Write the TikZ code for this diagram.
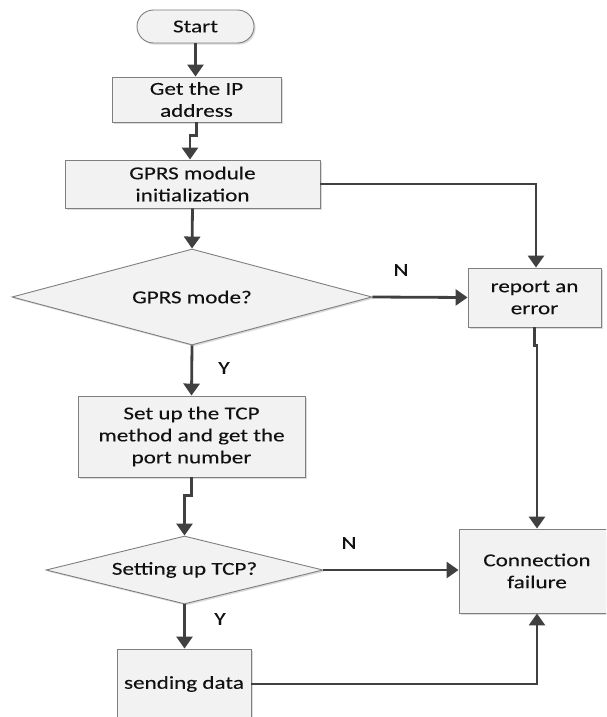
\documentclass[tikz,border=0pt]{standalone}
\usepackage{fontspec}
\setmainfont{Carlito}[FakeStretch=1.27,FakeBold=0.12]
\usetikzlibrary{shapes.geometric,arrows.meta,shadows}
\definecolor{linec}{HTML}{404040}
\definecolor{borderc}{HTML}{7F7F7F}
\definecolor{boxfill}{HTML}{F2F2F2}
\definecolor{txtc}{HTML}{111111}
\tikzset{
  base/.style={draw=borderc, line width=0.9pt, fill=boxfill, text=txtc, inner sep=0pt, align=center,
    font=\fontsize{18.2}{22}\selectfont,
    drop shadow={shadow xshift=1.6pt, shadow yshift=-1.6pt, fill=gray!35, opacity=0.8}},
  procbox/.style={base, rectangle},
  termbox/.style={base, rectangle, rounded corners=16.5pt},
  decbox/.style={base, diamond, aspect=3.5},
  arr/.style={draw=linec, line width=2.8pt, -{Triangle[length=12pt,width=16pt]}},
  lbl/.style={text=txtc, font=\fontsize{18.2}{22}\selectfont, inner sep=0pt}
}
\begin{document}
\begin{tikzpicture}[x=1pt,y=-1pt]
\useasboundingbox (0,0) rectangle (606,717);
\clip (0,0) rectangle (606,717);
\fill[white] (0,0) rectangle (606,717);
\node[termbox, minimum width=117pt, minimum height=33pt] (start) at (195.5,26.5) {Start};
\node[procbox, minimum width=169pt, minimum height=45pt] (ip) at (196.5,99.5) {Get the IP\\address};
\node[procbox, minimum width=255pt, minimum height=48pt] (init) at (192.5,184) {GPRS module\\initialization};
\node[decbox, minimum width=360pt, minimum height=96pt] (mode) at (192,297) {GPRS mode?};
\node[procbox, minimum width=133pt, minimum height=59pt] (report) at (534.5,297.5) {report an\\error};
\node[procbox, minimum width=227pt, minimum height=81pt] (tcp) at (191.5,436.5) {Set up the TCP\\method and get the\\port number};
\node[decbox, minimum width=277pt, minimum height=68pt] (setup) at (184.5,570) {Setting up TCP?};
\node[procbox, minimum width=156pt, minimum height=84pt] (fail) at (537,571) {Connection\\failure};
\node[procbox, minimum width=134pt, minimum height=70pt] (send) at (184,684) {sending data};

\draw[arr] (start.south) -- (ip.north -| start.south);
\draw[arr] (ip.south) -- ++(0,13) -| ([xshift=-2.5pt]init.north);
\draw[arr] (init.east) -| ([xshift=1.5pt]report.north);
\draw[arr] (init.south) -- (mode.north);
\draw[arr] (mode.east) -- (report.west);
\draw[arr] (mode.south) -- (tcp.north);
\draw[arr] (report.south) -- ++(0,18) -| (fail.north);
\draw[arr] (tcp.south) -- ++(0,18) -| (setup.north);
\draw[arr] (setup.east) -- (fail.west |- setup.east);
\draw[arr] (setup.south) -- (send.north -| setup.south);
\draw[arr] (send.east) -| (fail.south);

\node[lbl] (n1) at (401,270) {N};
\node[lbl] (y1) at (224,368) {Y};
\node[lbl] (n2) at (349,543) {N};
\node[lbl] (y2) at (220,619) {Y};
\end{tikzpicture}
\end{document}
